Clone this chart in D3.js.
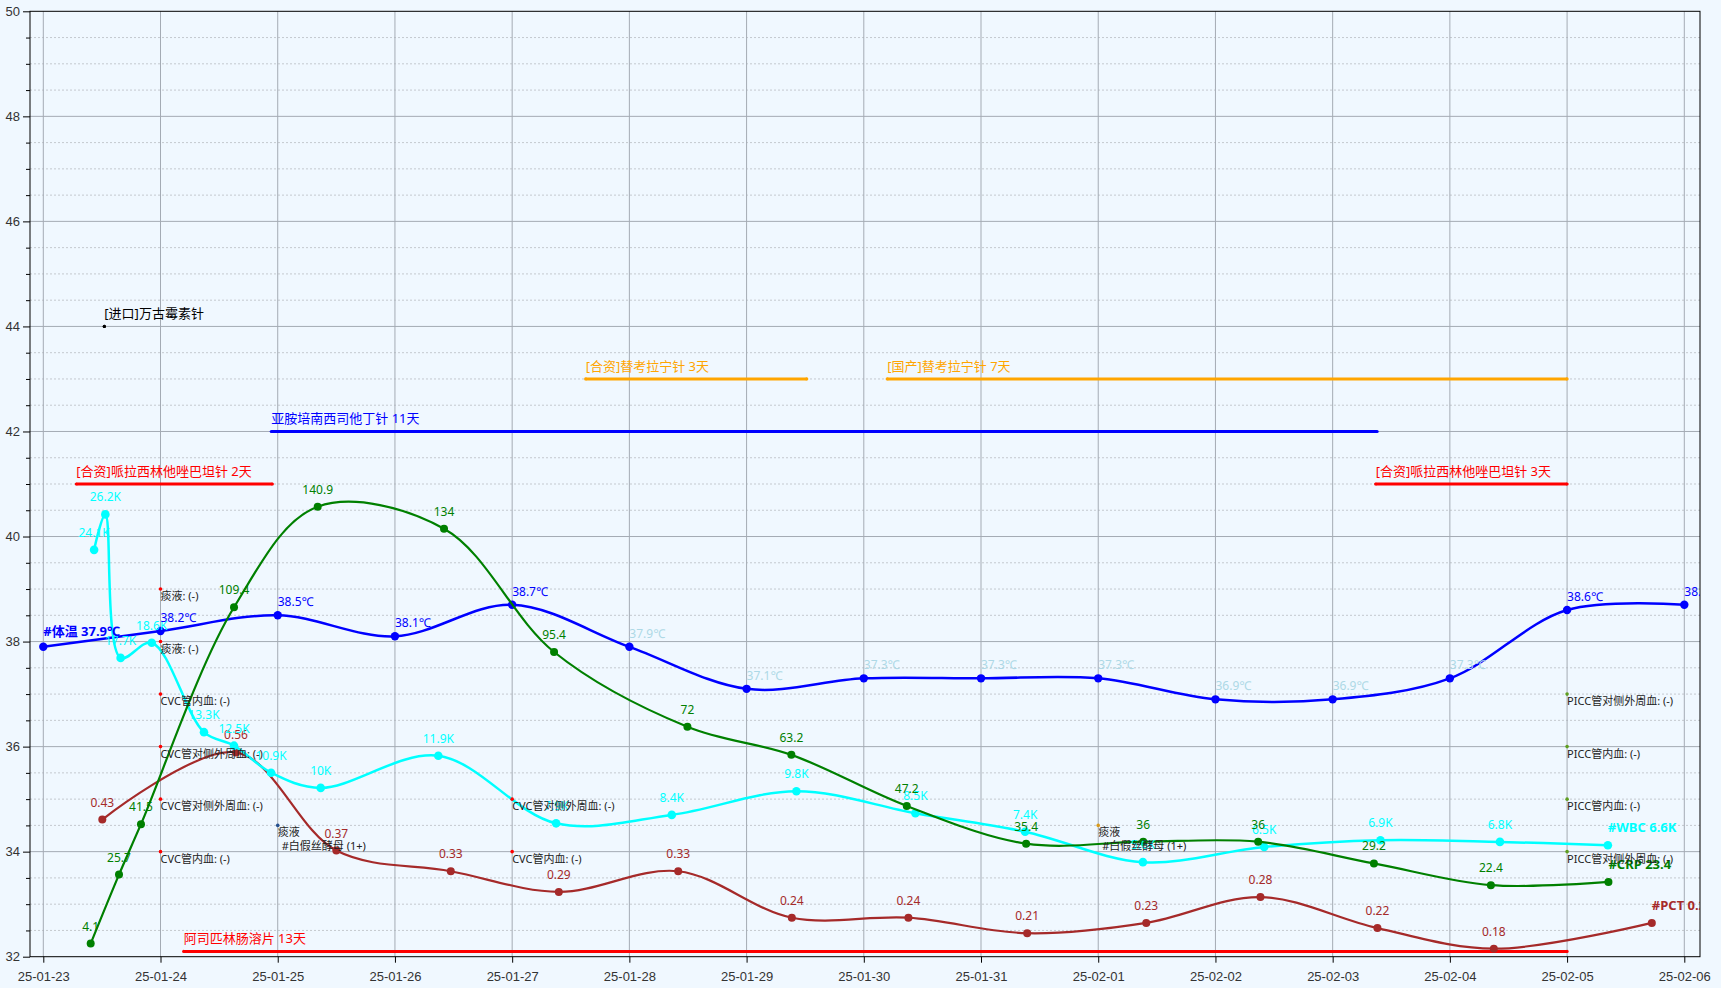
<!DOCTYPE html>
<meta charset="UTF-8">
<style>
body { margin: 0; background: #f0f8ff; }
svg { display: block; font-family: "Noto Sans", "Noto Sans CJK SC", sans-serif; }
.axis text { fill: #333; font-size: 13px; }
.axis line { stroke: #000; }
.axis path { display: none; }
.val { font-size: 12px; }
.tag { font-size: 13px; font-weight: bold; }
.med { font-size: 13px; }
.cult { font-size: 11px; fill: #222; }
</style>
<body>
<script src="https://cdn.jsdelivr.net/npm/d3@7"></script>
<script>

// ---- data ----
var dayTicks = ["2025-01-23","2025-01-24","2025-01-25","2025-01-26","2025-01-27","2025-01-28","2025-01-29",
                "2025-01-30","2025-01-31","2025-02-01","2025-02-02","2025-02-03","2025-02-04","2025-02-05","2025-02-06"];

// temperature (plotted directly on the axis)
var tempTimes = dayTicks.map(function(d) { return d + " 00:00"; });
var tempValues = [37.9, 38.2, 38.5, 38.1, 38.7, 37.9, 37.1, 37.3, 37.3, 37.3, 36.9, 36.9, 37.3, 38.6, 38.7];

// WBC (K)
var wbcTimes = ["2025-01-23 10:24","2025-01-23 12:42","2025-01-23 15:50","2025-01-23 22:12","2025-01-24 08:54",
                "2025-01-24 15:03","2025-01-24 22:38","2025-01-25 08:48","2025-01-26 08:53","2025-01-27 09:00",
                "2025-01-28 08:41","2025-01-29 10:12","2025-01-30 10:34","2025-01-31 09:02","2025-02-01 09:09",
                "2025-02-02 09:59","2025-02-03 09:47","2025-02-04 10:15","2025-02-05 08:21"];
var wbcValues = [24.1, 26.2, 17.7, 18.6, 13.3, 12.5, 10.9, 10, 11.9, 7.9, 8.4, 9.8, 8.5, 7.4, 5.6, 6.5, 6.9, 6.8, 6.6];

// CRP
var crpTimes = ["2025-01-23 09:42","2025-01-23 15:30","2025-01-23 20:00","2025-01-24 15:03","2025-01-25 08:11",
                "2025-01-26 10:03","2025-01-27 08:35","2025-01-28 11:53","2025-01-29 09:10","2025-01-30 08:48",
                "2025-01-31 09:14","2025-02-01 09:13","2025-02-02 08:45","2025-02-03 08:27","2025-02-04 08:24",
                "2025-02-05 08:28"];
var crpValues = [4.1, 25.7, 41.5, 109.4, 140.9, 134, 95.4, 72, 63.2, 47.2, 35.4, 36, 36, 29.2, 22.4, 23.4];

// PCT
var pctTimes = ["2025-01-23 12:05","2025-01-24 15:27","2025-01-25 12:00","2025-01-26 11:26","2025-01-27 09:33",
                "2025-01-28 10:00","2025-01-29 09:16","2025-01-30 09:08","2025-01-31 09:27","2025-02-01 09:50",
                "2025-02-02 09:13","2025-02-03 09:10","2025-02-04 09:00","2025-02-05 17:21"];
var pctValues = [0.43, 0.56, 0.37, 0.33, 0.29, 0.33, 0.24, 0.24, 0.21, 0.23, 0.28, 0.22, 0.18, 0.23];

// medication courses
var medNames  = ["[进口]万古霉素针", "[合资]哌拉西林他唑巴坦针 2天", "亚胺培南西司他丁针 11天", "[合资]替考拉宁针 3天",
                 "[国产]替考拉宁针 7天", "[合资]哌拉西林他唑巴坦针 3天", "阿司匹林肠溶片 13天"];
var medStarts = ["2025-01-23 12:30","2025-01-23 06:46","2025-01-24 22:41","2025-01-27 15:03",
                 "2025-01-30 04:48","2025-02-03 08:48","2025-01-24 04:45"];
var medEnds   = ["2025-01-23 12:30","2025-01-24 22:54","2025-02-03 09:06","2025-01-29 12:19",
                 "2025-02-05 00:00","2025-02-05 00:00","2025-02-05 00:00"];
var medLevels = [44, 41, 42, 43, 43, 41, 32.1];

// cultures
var cultDays    = ["2025-01-24","2025-01-24","2025-01-24","2025-01-24","2025-01-24","2025-01-24",
                   "2025-01-25","2025-01-27","2025-01-27","2025-02-01",
                   "2025-02-05","2025-02-05","2025-02-05","2025-02-05"];
var cultLevels  = [39, 38, 37, 36, 35, 34, 34.5, 35, 34, 34.5, 37, 36, 35, 34];
var cultTexts   = ["痰液: (-)","痰液: (-)","CVC管内血: (-)","CVC管对侧外周血: (-)","CVC管对侧外周血: (-)","CVC管内血: (-)",
                   "痰液","CVC管对侧外周血: (-)","CVC管内血: (-)","痰液",
                   "PICC管对侧外周血: (-)","PICC管内血: (-)","PICC管内血: (-)","PICC管对侧外周血: (-)"];
var cultResults = ["","","","","","","#白假丝酵母 (1+)","","","#白假丝酵母 (1+)","","","",""];

// ---- layout ----
var width = 1721, height = 988;
var pLeft = 30, pRight = 1700, pTop = 11.3, pBottom = 956.7;
var parse = d3.timeParse("%Y-%m-%d %H:%M");
var parseDay = d3.timeParse("%Y-%m-%d");

var x = d3.scaleTime()
    .domain([parseDay(dayTicks[0]), parseDay(dayTicks[dayTicks.length - 1])])
    .range([43.3, 1684.3]);
var y = d3.scaleLinear().domain([32, 50]).range([pBottom, pTop]);

// lab values are mapped onto the temperature axis
var wbcMap = d3.scaleLinear().domain([0, 56]).range([32, 50]);
var crpMap = d3.scaleLinear().domain([0, 296]).range([32, 50]);
var pctMap = d3.scaleLinear().domain([0.18, 0.56]).range([32.152, 35.89]);

var svg = d3.select("body").append("svg")
    .attr("width", width)
    .attr("height", height);

svg.append("defs").append("clipPath").attr("id", "plotclip")
  .append("rect").attr("x", pLeft).attr("y", pTop - 20).attr("width", pRight - pLeft).attr("height", pBottom - pTop + 20);

// grid
var halfSteps = d3.range(32, 50.01, 0.5);
var majors = halfSteps.filter(function(v) { return v % 2 === 0; });
var minors = halfSteps.filter(function(v) { return v % 2 !== 0; });

svg.append("g").selectAll("line").data(minors).enter().append("line")
    .attr("x1", pLeft).attr("x2", pRight)
    .attr("y1", function(d) { return y(d); }).attr("y2", function(d) { return y(d); })
    .attr("stroke", "#c4c9cf").attr("stroke-dasharray", "2,2");

svg.append("g").selectAll("line").data(majors.slice(1, -1)).enter().append("line")
    .attr("x1", pLeft).attr("x2", pRight)
    .attr("y1", function(d) { return y(d); }).attr("y2", function(d) { return y(d); })
    .attr("stroke", "#a4abb4");

svg.append("g").selectAll("line").data(dayTicks.map(parseDay)).enter().append("line")
    .attr("x1", function(d) { return x(d); }).attr("x2", function(d) { return x(d); })
    .attr("y1", pTop).attr("y2", pBottom)
    .attr("stroke", "#a4abb4");

// axes
svg.append("g").attr("class", "axis")
    .attr("transform", "translate(" + pLeft + ",0)")
    .call(d3.axisLeft(y).tickValues(majors).tickSize(7).tickPadding(3).tickFormat(d3.format("d")));
svg.append("g").attr("class", "axis")
    .attr("transform", "translate(" + pLeft + ",0)")
    .call(d3.axisLeft(y).tickValues(minors).tickSize(4).tickFormat(""));
svg.append("g").attr("class", "axis")
    .attr("transform", "translate(0," + pBottom + ")")
    .call(d3.axisBottom(x).tickValues(dayTicks.map(parseDay)).tickSize(6).tickPadding(9)
          .tickFormat(d3.timeFormat("%y-%m-%d")));

svg.append("rect")
    .attr("x", pLeft).attr("y", pTop).attr("width", pRight - pLeft).attr("height", pBottom - pTop)
    .attr("fill", "none").attr("stroke", "#000");

var plot = svg.append("g").attr("clip-path", "url(#plotclip)");

// medication bars
var medColor = d3.scaleOrdinal().domain(medNames)
    .range(["#000", "red", "blue", "orange", "orange", "red", "red"]);
var meds = medNames.map(function(n, i) {
  return {name: n, s: parse(medStarts[i]), e: parse(medEnds[i]), lv: medLevels[i]};
});
var medG = plot.append("g").selectAll("g").data(meds).enter().append("g");
medG.append("line")
    .attr("x1", function(d) { return x(d.s); }).attr("x2", function(d) { return x(d.e); })
    .attr("y1", function(d) { return y(d.lv); }).attr("y2", function(d) { return y(d.lv); })
    .attr("stroke", function(d) { return medColor(d.name); })
    .attr("stroke-width", 3);
medG.append("circle").attr("cx", function(d) { return x(d.s); }).attr("cy", function(d) { return y(d.lv); })
    .attr("r", 1.6).attr("fill", function(d) { return medColor(d.name); });
medG.append("circle").attr("cx", function(d) { return x(d.e); }).attr("cy", function(d) { return y(d.lv); })
    .attr("r", 1.6).attr("fill", function(d) { return medColor(d.name); });
medG.append("text").attr("class", "med")
    .attr("x", function(d) { return x(d.s); }).attr("y", function(d) { return y(d.lv) - 8; })
    .attr("fill", function(d) { return medColor(d.name); })
    .text(function(d) { return d.name; });

// series
function makeSeries(times, values, map) {
  return times.map(function(t, i) { return {t: parse(t), v: values[i], a: map(values[i])}; });
}
var tempData = makeSeries(tempTimes, tempValues, function(v) { return v; });
var wbcData = makeSeries(wbcTimes, wbcValues, wbcMap);
var crpData = makeSeries(crpTimes, crpValues, crpMap);
var pctData = makeSeries(pctTimes, pctValues, pctMap);

var line = d3.line()
    .x(function(d) { return x(d.t); })
    .y(function(d) { return y(d.a); })
    .curve(d3.curveCatmullRom.alpha(0.5));

function drawLine(data, color, w, r) {
  plot.append("path").datum(data)
      .attr("d", line).attr("fill", "none")
      .attr("stroke", color).attr("stroke-width", w);
  plot.append("g").selectAll("circle").data(data).enter().append("circle")
      .attr("cx", function(d) { return x(d.t); })
      .attr("cy", function(d) { return y(d.a); })
      .attr("r", r).attr("fill", color);
}
drawLine(tempData, "blue", 2.5, 4.2);
drawLine(pctData, "#a52a2a", 2.2, 4);
drawLine(wbcData, "cyan", 2.5, 4.3);
drawLine(crpData, "green", 2.2, 4);

// value labels
function labels(data, color, fmt, tagName, tagIndex) {
  plot.append("g").selectAll("text").data(data).enter().append("text")
      .attr("class", function(d, i) { return i === tagIndex ? "tag" : "val"; })
      .attr("x", function(d) { return x(d.t); })
      .attr("y", function(d) { return y(d.a) - 13; })
      .attr("text-anchor", function(d, i) { return i === tagIndex ? "start" : "middle"; })
      .attr("fill", color)
      .text(function(d, i) { return i === tagIndex ? tagName + " " + fmt(d.v) : fmt(d.v); });
}
labels(pctData, "#a52a2a", function(v) { return String(v); }, "#PCT", pctData.length - 1);
labels(wbcData, "cyan", function(v) { return v + "K"; }, "#WBC", wbcData.length - 1);
labels(crpData, "green", function(v) { return String(v); }, "#CRP", crpData.length - 1);

plot.append("g").selectAll("text").data(tempData).enter().append("text")
    .attr("class", function(d, i) { return i === 0 ? "tag" : "val"; })
    .attr("x", function(d) { return x(d.t); })
    .attr("y", function(d, i) { return y(d.a) - (i === 0 ? 11 : 9); })
    .attr("fill", function(d, i) { return (i === 0 || d.v >= 38) ? "blue" : "lightblue"; })
    .text(function(d, i) { return (i === 0 ? "#体温 " : "") + d.v.toFixed(1) + "℃"; });

// cultures
var cultColor = d3.scaleOrdinal()
    .domain(["2025-01-24", "2025-01-25", "2025-01-27", "2025-02-01", "2025-02-05"])
    .range(["red", "#24508f", "red", "#d99a1c", "#5f9e1f"]);
var cults = cultDays.map(function(d, i) {
  return {day: d, t: parseDay(d), lv: cultLevels[i], text: cultTexts[i], res: cultResults[i]};
});
var cg = plot.append("g").selectAll("g").data(cults).enter().append("g");
cg.append("circle")
    .attr("cx", function(d) { return x(d.t); }).attr("cy", function(d) { return y(d.lv); })
    .attr("r", 1.8).attr("fill", function(d) { return cultColor(d.day); });
cg.append("text").attr("class", "cult")
    .attr("x", function(d) { return x(d.t); }).attr("y", function(d) { return y(d.lv) + 11; })
    .text(function(d) { return d.text; });
cg.filter(function(d) { return d.res; }).append("text").attr("class", "cult")
    .attr("x", function(d) { return x(d.t) + 4; }).attr("y", function(d) { return y(d.lv) + 25; })
    .text(function(d) { return d.res; });

</script>
</body>
